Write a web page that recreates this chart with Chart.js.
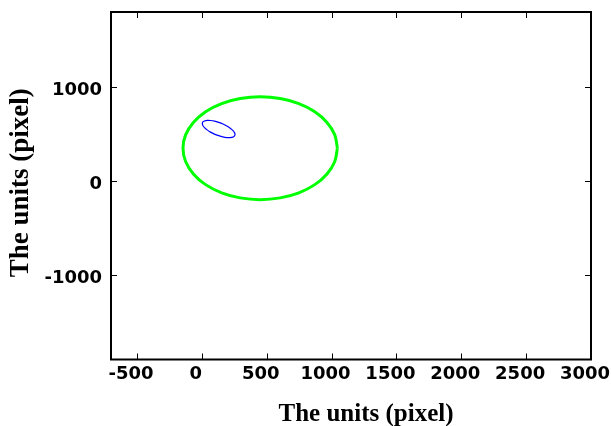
<!DOCTYPE html>
<html>
<head>
<meta charset="utf-8">
<script src="https://cdn.jsdelivr.net/npm/chart.js@4"></script>
<style>
  body { margin: 0; background: #fff; }
</style>
</head>
<body>
<canvas id="chart" width="611" height="426"></canvas>
<script>
// big green ellipse
const greenX = [1045, 1025, 965, 871, 748, 604, 450, 296, 153, 29, -65, -125, -145, -125, -65, 29, 153, 296, 450, 604, 748, 871, 965, 1025, 1045];
const greenY = [350, 492, 624, 738, 825, 879, 898, 879, 825, 738, 624, 492, 350, 208, 76, -38, -125, -179, -198, -179, -125, -38, 76, 208, 350];

// small tilted blue ellipse
const blueX = [252, 256, 252, 239, 219, 193, 163, 130, 98, 67, 41, 21, 8, 4, 8, 21, 41, 67, 97, 130, 162, 193, 219, 239, 252];
const blueY = [479, 496, 516, 539, 563, 587, 608, 625, 638, 645, 646, 640, 629, 612, 592, 569, 545, 521, 500, 483, 470, 463, 463, 468, 479];

const xTicks = [-500, 0, 500, 1000, 1500, 2000, 2500, 3000];
const yTicks = [-1000, 0, 1000];
const xTitle = 'The units (pixel)';
const yTitle = 'The units (pixel)';

function toPoints(xs, ys) {
  return xs.map((x, i) => ({x: x, y: ys[i]}));
}

// matlab style box, inward ticks on all four sides, axis titles
const matlabBox = {
  id: 'matlabBox',
  afterDraw(chart) {
    const ctx = chart.ctx;
    const a = chart.chartArea;
    const sx = chart.scales.x, sy = chart.scales.y;
    ctx.save();
    ctx.strokeStyle = '#000';
    ctx.lineWidth = 1;
    ctx.beginPath();
    for (let t of xTicks) {
      let px = Math.round(sx.getPixelForValue(t)) + 0.5;
      ctx.moveTo(px, a.bottom); ctx.lineTo(px, a.bottom - 6);
      ctx.moveTo(px, a.top); ctx.lineTo(px, a.top + 6);
    }
    for (let t of yTicks) {
      let py = Math.round(sy.getPixelForValue(t)) + 0.5;
      ctx.moveTo(a.left, py); ctx.lineTo(a.left + 6, py);
      ctx.moveTo(a.right, py); ctx.lineTo(a.right - 6, py);
    }
    ctx.stroke();
    ctx.lineWidth = 2;
    ctx.strokeRect(a.left, a.top, a.right - a.left, a.bottom - a.top);

    ctx.fillStyle = '#000';
    ctx.textAlign = 'center';
    ctx.textBaseline = 'alphabetic';
    ctx.font = 'bold 25px "Liberation Serif"';
    ctx.fillText(xTitle, (a.left + a.right) / 2 + 15, 421);
    ctx.font = 'bold 27px "Liberation Serif"';
    ctx.translate(27.5, (a.top + a.bottom) / 2 - 3);
    ctx.rotate(-Math.PI / 2);
    ctx.fillText(yTitle, 0, 0);
    ctx.restore();
  }
};

const tickFont = {family: '"DejaVu Sans", sans-serif', size: 18, weight: 'bold'};

function noPad(s) {
  s.paddingLeft = 0; s.paddingRight = 0; s.paddingTop = 0; s.paddingBottom = 0;
}

new Chart(document.getElementById('chart'), {
  type: 'scatter',
  data: {
    datasets: [
      {
        data: toPoints(greenX, greenY),
        showLine: true,
        borderColor: '#00ff00',
        borderWidth: 3,
        pointRadius: 0,
        tension: 0.34,
        fill: false
      },
      {
        data: toPoints(blueX, blueY),
        showLine: true,
        borderColor: '#0000ff',
        borderWidth: 1.2,
        pointRadius: 0,
        tension: 0.34,
        fill: false
      }
    ]
  },
  options: {
    responsive: false,
    animation: false,
    layout: {padding: {left: 0, top: 12, right: 20, bottom: 0}},
    plugins: {legend: {display: false}, tooltip: {enabled: false}},
    scales: {
      x: {
        type: 'linear',
        min: -700,
        max: 3000,
        afterBuildTicks: s => { s.ticks = xTicks.map(v => ({value: v})); },
        afterFit: s => { s.height = 66.5; noPad(s); },
        grid: {display: false, drawTicks: false},
        border: {display: false},
        ticks: {font: tickFont, color: '#000', padding: 4, labelOffset: -6, maxRotation: 0,
                autoSkip: false, callback: v => String(v)}
      },
      y: {
        type: 'linear',
        min: -1900,
        max: 1800,
        afterBuildTicks: s => { s.ticks = yTicks.map(v => ({value: v})); },
        afterFit: s => { s.width = 111; noPad(s); },
        grid: {display: false, drawTicks: false},
        border: {display: false},
        ticks: {font: tickFont, color: '#000', padding: 9, labelOffset: 3, autoSkip: false,
                callback: v => String(v)}
      }
    }
  },
  plugins: [matlabBox]
});
</script>
</body>
</html>
